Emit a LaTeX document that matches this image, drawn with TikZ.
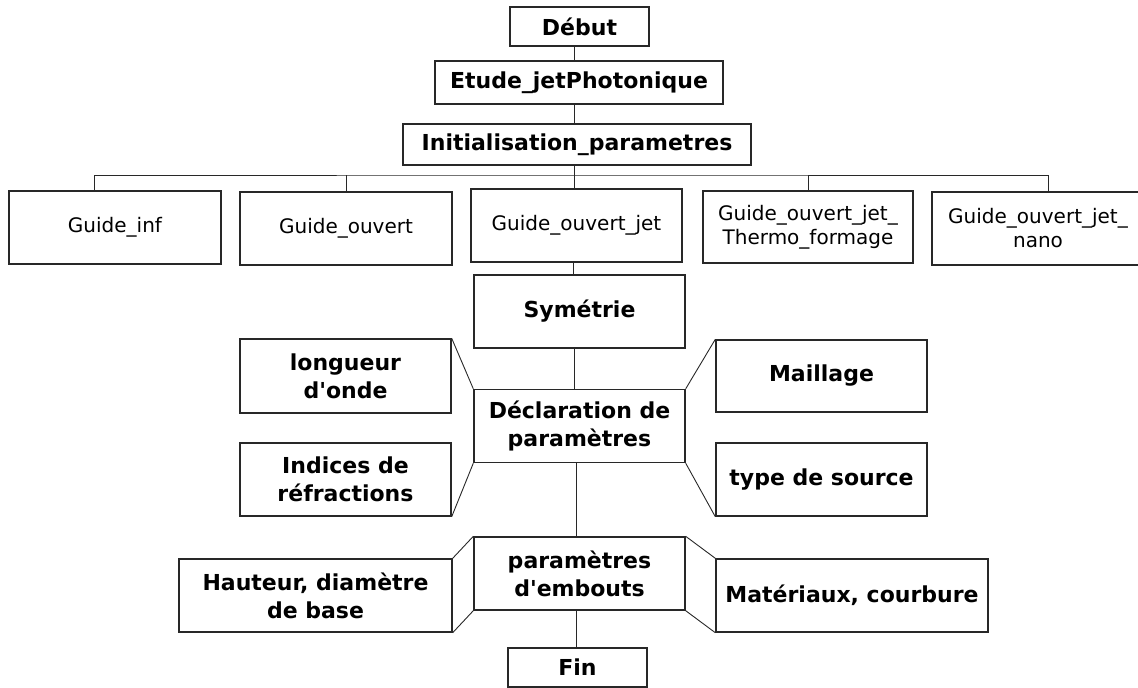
\documentclass[tikz,border=0pt]{standalone}
\usepackage{fontspec}
\setmainfont{DejaVu Sans}[Ligatures=TeXOff]
\usepackage{tikz}
\usetikzlibrary{positioning,calc}
\definecolor{edge}{RGB}{40,40,40}

\begin{document}
\begin{tikzpicture}[x=1pt, y=-1pt,
  blk/.style={draw=edge, line width=1.4pt, align=center, inner sep=0pt, font=\bfseries\fontsize{22}{28}\selectfont},
  gde/.style={draw=edge, line width=1.4pt, align=center, inner sep=0pt, minimum width=212pt, minimum height=73pt, font=\fontsize{20}{24}\selectfont},
  prm/.style={blk, minimum width=211pt, minimum height=73pt},
  lnk/.style={draw=edge, line width=0.9pt},
]
\useasboundingbox (0,0) rectangle (1138,688);

\node[blk, minimum width=139pt, minimum height=39pt] (debut) at (579.5,26.5) {Début};
\node[blk, minimum width=288pt, minimum height=43pt] (etude) at (579,82.5) {Etude\_jetPhotonique};
\node[blk, minimum width=348pt, minimum height=41pt] (init) at (577,144.5) {Initialisation\_parametres};

\node[gde] (ginf) at (115,227.5) {Guide\_inf};
\node[gde] (gouv) at (346,228.5) {Guide\_ouvert};
\node[gde, minimum width=211pt] (gjet) at (576.5,225.5) {Guide\_ouvert\_jet};
\node[gde, minimum width=210pt, minimum height=72pt] (gtherm) at (808,227) {Guide\_ouvert\_jet\_\\Thermo\_formage};
\node[gde] (gnano) at (1038,228.5) {Guide\_ouvert\_jet\_\\nano};

\node[prm] (sym) at (579.5,311.5) {Symétrie};
\node[prm] (decl) at (579.5,426) {Déclaration de\\paramètres};
\node[prm, minimum height=74pt] (onde) at (345.5,376) {longueur\\d'onde};
\node[prm, minimum height=72pt] (maill) at (821.5,376) {Maillage};
\node[prm] (indice) at (345.5,479.5) {Indices de\\réfractions};
\node[prm] (source) at (821.5,479.5) {type de source};

\node[prm] (embout) at (579.5,573.5) {paramètres\\d'embouts};
\node[blk, minimum width=273pt, minimum height=73pt] (haut) at (315.5,595.5) {Hauteur, diamètre\\de base};
\node[blk, minimum width=272pt, minimum height=73pt] (mater) at (852,595.5) {Matériaux, courbure};
\node[blk, minimum width=139pt, minimum height=39pt] (fin) at (577.5,667.5) {Fin};

\coordinate (bus) at (574,175);

\draw[lnk] ([xshift=-5pt]debut.south) -- ([xshift=-5pt]debut.south |- etude.north);
\draw[lnk] ([xshift=-5pt]etude.south) -- ([xshift=-5pt]etude.south |- init.north);
\draw[lnk] (bus |- init.south) -- (bus |- gjet.north);
\draw[lnk] ([xshift=-21pt]ginf.north) |- (bus) -| ([xshift=10pt]gnano.north);
\draw[lnk] (gouv.north) -- (gouv.north |- bus);
\draw[lnk] (gtherm.north) -- (gtherm.north |- bus);

\draw[lnk] ([xshift=-3pt]gjet.south) -- ([xshift=-3pt]gjet.south |- sym.north);
\draw[lnk] ([xshift=-5pt]sym.south) -- ([xshift=-5pt]sym.south |- decl.north);
\draw[lnk] (onde.north east) -- (decl.north west);
\draw[lnk] (maill.north west) -- (decl.north east);
\draw[lnk] (indice.south east) -- (decl.south west);
\draw[lnk] (source.south west) -- (decl.south east);

\draw[lnk] ([xshift=-3pt]decl.south) -- ([xshift=-3pt]decl.south |- embout.north);
\draw[lnk] (haut.north east) -- (embout.north west);
\draw[lnk] (haut.south east) -- (embout.south west);
\draw[lnk] (mater.north west) -- (embout.north east);
\draw[lnk] (mater.south west) -- (embout.south east);
\draw[lnk] ([xshift=-3pt]embout.south) -- ([xshift=-3pt]embout.south |- fin.north);

\end{tikzpicture}
\end{document}
